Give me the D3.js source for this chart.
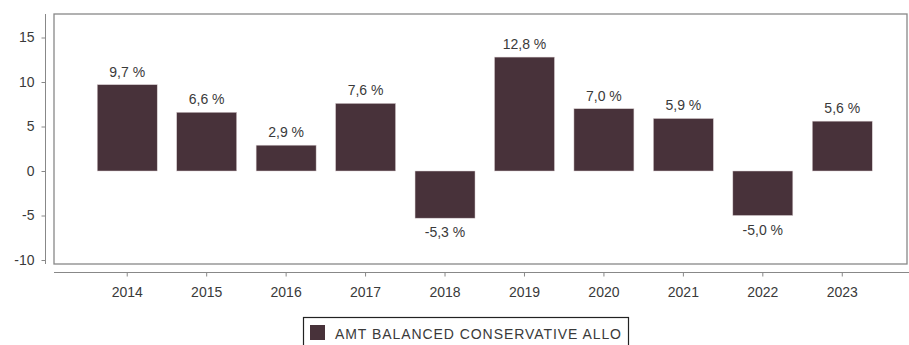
<!DOCTYPE html>
<html>
<head>
<meta charset="utf-8">
<script src="https://cdn.jsdelivr.net/npm/d3@7"></script>
<style>
  body { margin: 0; background: #fff; }
  svg { display: block; font-family: "Liberation Sans", Arial, sans-serif; }
</style>
</head>
<body>
<svg id="chart"></svg>
<script>
const years = ['2014', '2015', '2016', '2017', '2018', '2019', '2020', '2021', '2022', '2023'];
const returns = [9.7, 6.6, 2.9, 7.6, -5.3, 12.8, 7.0, 5.9, -5.0, 5.6];
const yTicks = [-10, -5, 0, 5, 10, 15];
const seriesName = 'AMT BALANCED CONSERVATIVE ALLO';

const width = 909;
const height = 345;
const box = {left: 54, top: 14, right: 907, bottom: 264};
const barColor = '#48323a';
const axisColor = '#888';
const textColor = '#3a3a3a';
const fontSize = '14px';

const svg = d3.select('#chart')
  .attr('width', width)
  .attr('height', height);

const xScale = d3.scaleBand()
  .domain(years)
  .range([87.5, 882])
  .paddingInner(0.245)
  .paddingOuter(0.1225);

const yScale = d3.scaleLinear()
  .domain([-10, 15])
  .range([260, 37.5]);

// plot frame
svg.append('rect')
  .attr('x', box.left)
  .attr('y', box.top)
  .attr('width', box.right - box.left)
  .attr('height', box.bottom - box.top)
  .attr('fill', 'none')
  .attr('stroke', axisColor)
  .attr('stroke-width', 1.3);

// left axis, set off from the frame
const yAxis = svg.append('g')
  .attr('transform', 'translate(45.5, 0)')
  .call(d3.axisLeft(yScale).tickValues(yTicks).tickFormat((d) => String(d)).tickSize(4).tickPadding(7));
yAxis.select('.domain')
  .attr('d', `M0,${box.top}V${box.bottom}`)
  .attr('stroke', axisColor);
yAxis.selectAll('.tick line').attr('stroke', axisColor);
yAxis.selectAll('.tick text')
  .attr('fill', textColor)
  .style('font-size', fontSize)
  .style('font-family', '"Liberation Sans", Arial, sans-serif');

// bottom axis
const xAxis = svg.append('g')
  .attr('transform', 'translate(0, 272.5)')
  .call(d3.axisBottom(xScale).tickSize(4).tickPadding(11));
xAxis.select('.domain')
  .attr('d', `M${box.left},0H${width}`)
  .attr('stroke', axisColor);
xAxis.selectAll('.tick line').attr('stroke', axisColor);
xAxis.selectAll('.tick text')
  .attr('fill', textColor)
  .style('font-size', fontSize)
  .style('font-family', '"Liberation Sans", Arial, sans-serif');

const rows = years.map((y, i) => ({year: y, value: returns[i]}));

svg.selectAll('rect.bar')
  .data(rows)
  .enter()
  .append('rect')
  .attr('class', 'bar')
  .attr('x', (d) => xScale(d.year))
  .attr('width', xScale.bandwidth())
  .attr('y', (d) => yScale(Math.max(0, d.value)))
  .attr('height', (d) => Math.abs(yScale(d.value) - yScale(0)))
  .attr('fill', barColor)
  .attr('stroke', '#d9cfd1')
  .attr('stroke-width', 0.5);

svg.selectAll('text.val')
  .data(rows)
  .enter()
  .append('text')
  .attr('class', 'val')
  .attr('x', (d) => xScale(d.year) + xScale.bandwidth() / 2)
  .attr('y', (d) => d.value >= 0 ? yScale(d.value) - 8 : yScale(d.value) + 19)
  .attr('text-anchor', 'middle')
  .attr('fill', textColor)
  .style('font-size', fontSize)
  .text((d) => d.value.toFixed(1).replace('.', ',') + ' %');

// legend
const legend = svg.append('g');
legend.append('rect')
  .attr('x', 303.5)
  .attr('y', 317.5)
  .attr('width', 325)
  .attr('height', 40)
  .attr('fill', '#fff')
  .attr('stroke', '#222')
  .attr('stroke-width', 1.2);
legend.append('rect')
  .attr('x', 310)
  .attr('y', 325)
  .attr('width', 15)
  .attr('height', 15)
  .attr('fill', barColor);
legend.append('text')
  .attr('x', 335)
  .attr('y', 339)
  .attr('fill', textColor)
  .attr('textLength', 286)
  .attr('lengthAdjust', 'spacing')
  .style('font-size', fontSize)
  .text(seriesName);
</script>
</body>
</html>
